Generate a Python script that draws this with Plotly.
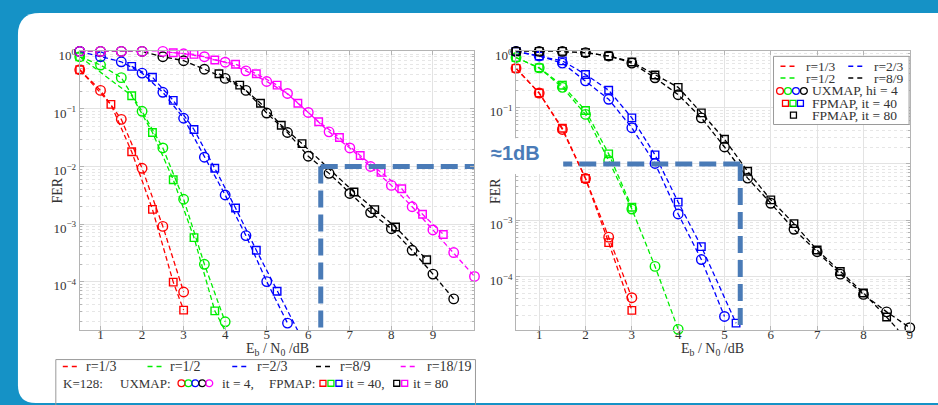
import plotly.graph_objects as go

W, H = 938, 405

# ---------------- data : Eb/N0 [dB] and FER ----------------
# Left panel (K=128, rates 1/3, 1/2, 2/3, 8/9, 18/19)
L13_ux_x = [0.5, 1, 1.5, 2, 2.5, 3]
L13_ux_y = [0.48, 0.21, 0.066, 9.3e-3, 9.1e-4, 6.6e-5]
L13_fp_x = [0.5, 1.25, 1.75, 2.25, 2.75, 3.0]
L13_fp_y = [0.48, 0.12, 0.018, 1.8e-3, 9.8e-5, 3.2e-5]

L12_ux_x = [0.5, 1, 1.5, 2, 2.5, 3, 3.5, 4]
L12_ux_y = [0.81, 0.58, 0.35, 0.091, 0.021, 2.7e-3, 2.0e-4, 2.0e-5]
L12_fp_x = [0.5, 1.75, 2.25, 2.75, 3.25, 3.75, 4.0]
L12_fp_y = [0.81, 0.17, 0.039, 5.9e-3, 5.8e-4, 3.1e-5, 1.4e-5]

L23_ux_x = [0.5, 1, 1.5, 2, 2.5, 3, 3.5, 4, 4.5, 5, 5.5]
L23_ux_y = [1.0, 0.81, 0.66, 0.42, 0.195, 0.069, 0.0145, 3.2e-3, 6.3e-4, 1.0e-4, 1.9e-5]
L23_fp_x = [1.75, 2.25, 2.75, 3.25, 3.75, 4.25, 4.75, 5.25, 5.75]
L23_fp_y = [0.55, 0.355, 0.141, 0.044, 9.3e-3, 1.9e-3, 3.5e-4, 6.8e-5, 1.4e-5]

L89_ux_x = [0.5, 1, 1.5, 2, 2.5, 3, 3.5, 4, 4.5, 5, 5.5, 6, 6.5, 7, 7.5, 8, 8.5, 9, 9.5]
L89_ux_y = [1, 1, 1, 1, 0.81, 0.69, 0.49, 0.34, 0.21, 0.085, 0.039, 0.0151, 7.6e-3,
            3.4e-3, 1.58e-3, 8.3e-4, 3.5e-4, 1.35e-4, 5.0e-5]
L89_fp_x = [3.85, 4.35, 4.85, 5.35, 5.85, 7.1, 7.6, 8.1, 8.85]
L89_fp_y = [0.41, 0.26, 0.126, 0.052, 0.025, 3.6e-3, 1.78e-3, 8.9e-4, 2.4e-4]

L1819_ux_x = [0.5, 1, 1.5, 2, 2.5, 3, 3.5, 4, 4.5, 5, 5.5, 6, 6.5, 7, 7.5, 8, 8.5, 9, 9.5, 10]
L1819_ux_y = [1, 1, 1, 1, 1, 0.91, 0.81, 0.65, 0.46, 0.30, 0.186, 0.087, 0.040, 0.021,
              0.010, 4.7e-3, 2.0e-3, 7.9e-4, 3.2e-4, 1.23e-4]
L1819_fp_x = [2.75, 3.25, 3.75, 4.25, 4.75, 5.25, 5.75, 6.25, 6.75, 7.25, 7.75, 8.25, 8.75, 9.25]
L1819_fp_y = [0.95, 0.89, 0.71, 0.60, 0.41, 0.26, 0.126, 0.060, 0.032, 0.0155, 7.9e-3,
              4.1e-3, 1.48e-3, 6.6e-4]

# Right panel (rates 1/3, 1/2, 2/3, 8/9)
R13_x = [0.5, 1, 1.5, 2, 2.5, 3]
R13_ux_y = [0.50, 0.182, 0.041, 5.5e-3, 5.0e-4, 4.2e-5]
R13_fp_y = [0.50, 0.182, 0.043, 5.5e-3, 4.0e-4, 2.5e-5]

R12_ux_x = [0.5, 1, 1.5, 2, 2.5, 3, 3.5, 4]
R12_ux_y = [0.78, 0.51, 0.23, 0.076, 0.0115, 1.58e-3, 1.51e-4, 1.15e-5]
R12_fp_x = [0.5, 1, 1.5, 2, 2.5, 3]
R12_fp_y = [0.78, 0.51, 0.25, 0.089, 0.0151, 1.7e-3]

R23_ux_x = [0.5, 1, 1.5, 2, 2.5, 3, 3.5, 4, 4.5, 5]
R23_ux_y = [1.0, 0.83, 0.62, 0.30, 0.141, 0.044, 0.0102, 1.29e-3, 2.0e-4, 1.95e-5]
R23_fp_x = [0.5, 1, 1.5, 2, 2.5, 3, 3.5, 4, 4.5, 5.25]
R23_fp_y = [1.0, 0.83, 0.68, 0.39, 0.204, 0.066, 0.0145, 2.1e-3, 3.4e-4, 1.48e-5]

R89_ux_x = [0.5, 1, 1.5, 2, 2.5, 3, 3.5, 4, 4.5, 5, 5.5, 6, 6.5, 7, 7.5, 8, 8.5, 9]
R89_ux_y = [1, 1, 1, 0.95, 0.83, 0.62, 0.34, 0.17, 0.066, 0.020, 5.6e-3, 2.0e-3, 6.9e-4,
            2.75e-4, 1.10e-4, 4.8e-5, 2.35e-5, 1.23e-5]
R89_fp_x = [0.5, 1, 1.5, 2, 2.5, 3, 3.5, 4, 4.5, 5, 5.5, 6, 6.5, 7, 7.5, 8, 8.5, 8.75]
R89_fp_y = [1, 1, 1, 0.95, 0.83, 0.65, 0.38, 0.23, 0.081, 0.0275, 7.4e-3, 2.3e-3, 8.7e-4,
            2.95e-4, 1.23e-4, 5.1e-5, 1.9e-5, 1.12e-5]

# annotation markers (target FER and Eb/N0 points of the 1 dB gap)
FER_TARGET = 0.01
LEFT_GAP_X = 6.3
RIGHT_GAP_X = 5.34

X_TICKS = [1, 2, 3, 4, 5, 6, 7, 8, 9]
Y_TICKVALS = [1, 0.1, 0.01, 0.001, 0.0001]
Y_TICKTEXT_L = ["10<sup>0</sup>", "10<sup>\u22121</sup>", "10<sup>\u22122</sup>",
                "10<sup>\u22123</sup>", "10<sup>\u22124</sup>"]
# on the right panel the 10^-2 label is hidden behind the "≈1dB" note
Y_TICKTEXT_R = ["10<sup>0</sup>", "10<sup>\u22121</sup>", "",
                "10<sup>\u22123</sup>", "10<sup>\u22124</sup>"]

RED, GREEN, BLUE, BLACK, MAG = "#ff0000", "#00ee00", "#0000ff", "#000000", "#ff00ff"
ANN = "#4a7bb7"
SERIF = "Liberation Serif"
TXT = "#333333"

fig = go.Figure()


def add(xs, ys, color, symbol, xa, ya):
    size = 9.5 if symbol == "circle-open" else 7.5
    fig.add_trace(go.Scatter(
        x=xs, y=ys, mode="lines+markers", xaxis=xa, yaxis=ya,
        line=dict(color=color, width=1.3, dash="5px,3px"),
        marker=dict(symbol=symbol, size=size, color=color, line=dict(color=color, width=1.4)),
        showlegend=False, cliponaxis=False, hoverinfo="skip"))


C, S = "circle-open", "square-open"
# left panel
add(L13_ux_x, L13_ux_y, RED, C, "x", "y"); add(L13_fp_x, L13_fp_y, RED, S, "x", "y")
add(L12_ux_x, L12_ux_y, GREEN, C, "x", "y"); add(L12_fp_x, L12_fp_y, GREEN, S, "x", "y")
add(L23_ux_x, L23_ux_y, BLUE, C, "x", "y"); add(L23_fp_x, L23_fp_y, BLUE, S, "x", "y")
add(L89_ux_x, L89_ux_y, BLACK, C, "x", "y"); add(L89_fp_x, L89_fp_y, BLACK, S, "x", "y")
add(L1819_ux_x, L1819_ux_y, MAG, C, "x", "y"); add(L1819_fp_x, L1819_fp_y, MAG, S, "x", "y")
# right panel
add(R13_x, R13_ux_y, RED, C, "x2", "y2"); add(R13_x, R13_fp_y, RED, S, "x2", "y2")
add(R12_ux_x, R12_ux_y, GREEN, C, "x2", "y2"); add(R12_fp_x, R12_fp_y, GREEN, S, "x2", "y2")
add(R23_ux_x, R23_ux_y, BLUE, C, "x2", "y2"); add(R23_fp_x, R23_fp_y, BLUE, S, "x2", "y2")
add(R89_ux_x, R89_ux_y, BLACK, C, "x2", "y2"); add(R89_fp_x, R89_fp_y, BLACK, S, "x2", "y2")


def guide(xs, ys, xa, ya):
    fig.add_trace(go.Scatter(x=xs, y=ys, mode="lines", xaxis=xa, yaxis=ya,
                             line=dict(color=ANN, width=5, dash="17px,7px"),
                             showlegend=False, hoverinfo="skip"))


guide([LEFT_GAP_X, 11], [FER_TARGET, FER_TARGET], "x", "y")
guide([LEFT_GAP_X, LEFT_GAP_X], [FER_TARGET, 1e-6], "x", "y")
guide([RIGHT_GAP_X, 0], [FER_TARGET, FER_TARGET], "x2", "y2")
guide([RIGHT_GAP_X, RIGHT_GAP_X], [FER_TARGET, 1e-6], "x2", "y2")

minor_vals = [m * 10.0 ** d for d in range(-6, 0) for m in range(2, 10)]

ax_common = dict(showline=True, linecolor="#b4b4b4", linewidth=1, mirror="allticks",
                 ticks="inside", ticklen=4, tickcolor="#b4b4b4", showgrid=True,
                 gridcolor="#e3e3e3", gridwidth=1, zeroline=False,
                 tickfont=dict(family=SERIF, size=13, color=TXT))
x_common = dict(ax_common, tickmode="array", tickvals=X_TICKS, ticklabelstandoff=-8)
y_common = dict(ax_common, type="log", tickmode="array", tickvals=Y_TICKVALS,
                ticklabelshift=4,
                minor=dict(tickmode="array", tickvals=minor_vals, ticks="inside",
                           ticklen=2, tickcolor="#b4b4b4", showgrid=True,
                           gridcolor="#e6e6e6", griddash="dot"))

fig.update_layout(
    width=W, height=H, margin=dict(l=0, r=0, t=0, b=0),
    paper_bgcolor="#1592c6", plot_bgcolor="white",
    xaxis=dict(x_common, domain=[80 / W, 476 / W], range=[0.5, 10], anchor="y"),
    yaxis=dict(y_common, ticktext=Y_TICKTEXT_L, domain=[1 - 329 / H, 1 - 47 / H],
               range=[-4.84, 0], anchor="x"),
    xaxis2=dict(x_common, domain=[517.7 / W, 912.7 / W], range=[0.5, 9], anchor="y2"),
    yaxis2=dict(y_common, ticktext=Y_TICKTEXT_R, domain=[1 - 329 / H, 1 - 47 / H],
                range=[-4.95, 0], anchor="x2"),
)


def px(x):
    return x / W


def py(y):
    return 1 - y / H


shapes = []
# white card
x0c, y0c, x1c, y1c, r1, r2 = 18, 8, W + 30, 403, 22, 18
card = (f"M {px(x0c + r1)},{py(y0c)} L {px(x1c)},{py(y0c)} L {px(x1c)},{py(y1c)} "
        f"L {px(x0c + r2)},{py(y1c)} Q {px(x0c)},{py(y1c)} {px(x0c)},{py(y1c - r2)} "
        f"L {px(x0c)},{py(y0c + r1)} Q {px(x0c)},{py(y0c)} {px(x0c + r1)},{py(y0c)} Z")
shapes.append(dict(type="path", path=card, xref="paper", yref="paper",
                   fillcolor="white", line=dict(width=0), layer="below"))

# white box behind the "≈1dB" label
shapes.append(dict(type="rect", xref="paper", yref="paper", x0=px(477), x1=px(565),
                   y0=py(171), y1=py(135), fillcolor="white", line=dict(width=0), layer="above"))

# left legend box (open at bottom, cut by the card edge)
lb = f"M {px(56)},{py(412)} L {px(56)},{py(359)} L {px(477)},{py(359)} L {px(477)},{py(412)}"
shapes.append(dict(type="path", path=lb, xref="paper", yref="paper",
                   line=dict(color="#9a9a9a", width=1), layer="above"))

# right legend box
shapes.append(dict(type="rect", xref="paper", yref="paper", x0=px(776), x1=px(912),
                   y0=py(121), y1=py(52), fillcolor="white",
                   line=dict(color="#9a9a9a", width=1), layer="above"))


def dash_sample(x0, x1, y, color):
    shapes.append(dict(type="line", xref="paper", yref="paper", x0=px(x0), x1=px(x1),
                       y0=py(y), y1=py(y), line=dict(color=color, width=1.5, dash="5px,4px"),
                       layer="above"))


def circ(cx, cy, color, r=3.4):
    shapes.append(dict(type="circle", xref="paper", yref="paper", x0=px(cx - r), x1=px(cx + r),
                       y0=py(cy + r), y1=py(cy - r), line=dict(color=color, width=1.3),
                       layer="above"))


def sq(cx, cy, color, h=3.0):
    shapes.append(dict(type="rect", xref="paper", yref="paper", x0=px(cx - h), x1=px(cx + h),
                       y0=py(cy + h), y1=py(cy - h), line=dict(color=color, width=1.3),
                       layer="above"))


annotations = []


def text(x, y, s, size=14, anchor="left", angle=0, color=TXT, family=SERIF):
    annotations.append(dict(x=px(x), y=py(y), xref="paper", yref="paper", text=s,
                            showarrow=False, xanchor=anchor, yanchor="middle",
                            textangle=angle, borderpad=0,
                            font=dict(family=family, size=size, color=color)))


# left legend
row1, row2 = 366, 383
for (d0, tx, col, lab) in [(63, 85, RED, "r=1/3"), (148, 170, GREEN, "r=1/2"),
                           (233, 257, BLUE, "r=2/3"), (317, 340, BLACK, "r=8/9"),
                           (402, 427, MAG, "r=18/19")]:
    dash_sample(d0, d0 + 15, row1, col)
    text(tx, row1, lab)
text(62, row2, "K=128:", size=13)
text(119, row2, "UXMAP:", size=13)
for i, col in enumerate([RED, GREEN, BLUE, BLACK, MAG]):
    circ(182 + 7 * i, row2, col)
text(222, row2, "it = 4,", size=13.5)
text(269, row2, "FPMAP:", size=13)
for i, col in enumerate([RED, GREEN, BLUE]):
    sq(324 + 8 * i, row2, col)
text(346, row2, "it = 40,", size=13.5)
for i, col in enumerate([BLACK, MAG]):
    sq(398 + 8 * i, row2, col)
text(413, row2, "it = 80", size=13.5)

# right legend
for (d0, tx, y, col, lab) in [(783, 808, 62, RED, "r=1/3"), (851, 876, 62, BLUE, "r=2/3"),
                              (783, 808, 74, GREEN, "r=1/2"), (851, 876, 74, BLACK, "r=8/9")]:
    dash_sample(d0, d0 + 16, y, col)
    text(tx, y, lab, size=13.5)
for i, col in enumerate([RED, GREEN, BLUE, BLACK]):
    circ(782.5 + 8 * i, 87, col)
text(814, 87, "UXMAP, hi = 4", size=13.5)
for i, col in enumerate([RED, GREEN, BLUE]):
    sq(788 + 7.5 * i, 99.5, col)
text(814, 99.5, "FPMAP, it = 40", size=13.5)
sq(796, 111.5, BLACK)
text(814, 111.5, "FPMAP, it = 80", size=13.5)

# axis titles
text(278, 349, "E<sub>b</sub> / N<sub>0</sub> /dB", anchor="center")
text(715, 349, "E<sub>b</sub> / N<sub>0</sub> /dB", anchor="center")
text(58, 188, "FER", anchor="center", angle=-90)
text(497, 188, "FER", anchor="center", angle=-90)

# gap label
text(517, 150, "<b>\u22481dB</b>", size=20, anchor="center", color=ANN, family="Liberation Sans")

fig.update_layout(shapes=shapes, annotations=annotations)
fig.write_html("out.html")
